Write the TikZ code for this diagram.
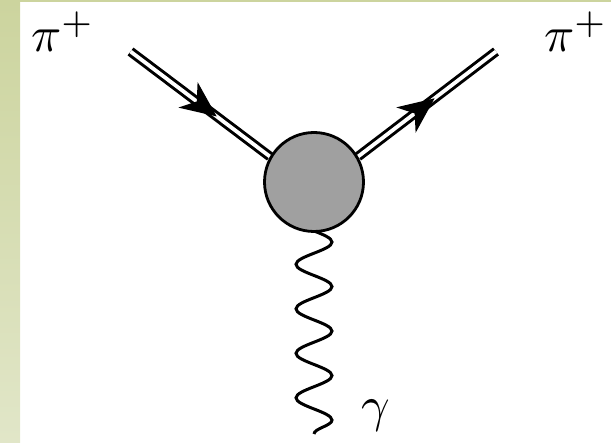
\documentclass[tikz,border=0pt]{standalone}
\usepackage{graphicx}
\usetikzlibrary{decorations.pathmorphing,decorations.markings,backgrounds}
\definecolor{stripA}{RGB}{204,212,158}
\definecolor{stripB}{RGB}{225,230,200}
\definecolor{blobgray}{RGB}{160,160,160}
\tikzset{
 pion/.style={draw=black, double=white, double distance=3.8pt, line width=3pt},
 arrowmark/.style={decorate, decoration={markings, mark=at position #1 with {\fill[black] (2pt,0pt) -- (-34pt,16pt) -- (-23pt,0pt) -- (-34pt,-16pt) -- cycle;}}},
 photon/.style={draw=black, line width=3pt, decorate, decoration={snake, amplitude=18pt, segment length=44.5pt, mirror}},
 blob/.style={circle, draw=black, line width=2.8pt, fill=blobgray, minimum size=99pt, inner sep=0pt},
 lbl/.style={anchor=base west, inner sep=0pt},
}
\begin{document}
\begin{tikzpicture}[x=1pt,y=-1pt]
\useasboundingbox (0,0) rectangle (611,443);
\node[blob] (v) at (314,182) {};
\coordinate (a) at (130.5,51.5);
\coordinate (b) at (496,51.5);
\coordinate (g) at (314,434);
\node[lbl] (l1) at (31,52) {\scalebox{5}{$\pi^+$}};
\node[lbl] (l2) at (544,52) {\scalebox{5}{$\pi^+$}};
\node[lbl] (l3) at (361,421.5) {\scalebox{5}{$\gamma$}};
\begin{scope}[on background layer]
 \shade[top color=stripA, bottom color=stripB] (0,0) rectangle (20,443);
 \fill[stripA] (0,0) rectangle (611,2);
 \draw[pion] (a) -- (v.150);
 \path[arrowmark=0.607] (a) -- (v.150);
 \draw[pion] (v.30) -- (b);
 \path[arrowmark=0.543] (v.30) -- (b);
 \draw[photon] (g) -- (v.center);
\end{scope}
\end{tikzpicture}
\end{document}
